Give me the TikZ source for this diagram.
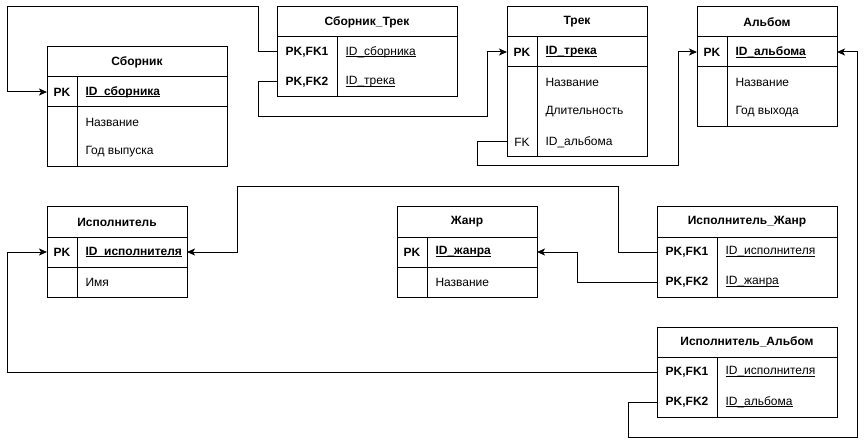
\documentclass[tikz,border=0pt]{standalone}
\usepackage{fontspec}
\setmainfont{Liberation Sans}
\usetikzlibrary{positioning,arrows.meta}

\newcommand{\idul}[1]{\rlap{\underline{\smash{#1}}}\phantom{#1}}

\tikzset{
  hdr/.style={draw, font=\fontsize{12}{14}\selectfont\bfseries, minimum height=30pt,
    inner sep=0pt, outer sep=0pt, anchor=north west},
  row/.style={minimum height=30pt, inner sep=0pt, outer sep=0pt},
  key/.style={font=\fontsize{12}{14}\selectfont\bfseries, inner sep=0pt},
  fld/.style={font=\fontsize{12}{14}\selectfont, anchor=west, inner sep=0pt},
  keyfld/.style={fld, font=\fontsize{12}{14}\selectfont\bfseries},
  rel/.style={-{Stealth[length=8pt,width=7pt,inset=2pt]}}
}

\begin{document}
\begin{tikzpicture}[x=1pt, y=-1pt, line width=1pt]
  \useasboundingbox (0,0) rectangle (866,446);

  % Сборник
  \node[hdr, minimum width=180] (sb) at (47,47) {Сборник};
  \node[row, minimum width=180, below=0pt of sb] (sb-pk) {};
  \node[row, minimum width=180, below=0pt of sb-pk] (sb-a1) {};
  \node[row, minimum width=180, below=0pt of sb-a1] (sb-a2) {};
  \draw (sb.south west) rectangle (sb-a2.south east);
  \draw (sb-pk.south west) -- (sb-pk.south east);
  \draw ([xshift=30]sb.south west) -- ([xshift=30]sb-a2.south west);
  \node[key] at ([xshift=15]sb-pk.west) {PK};
  \node[keyfld] at ([xshift=38]sb-pk.west) {\idul{ID\_сборника}};
  \node[fld] at ([xshift=38]sb-a1.west) {Название};
  \node[fld] at ([xshift=38]sb-a2.west) {Год выпуска};

  % Сборник_Трек
  \node[hdr, minimum width=180] (st) at (277,7) {Сборник\_Трек};
  \node[row, minimum width=180, below=0pt of st] (st-r1) {};
  \node[row, minimum width=180, below=0pt of st-r1] (st-r2) {};
  \draw (st.south west) rectangle (st-r2.south east);
  \draw ([xshift=60]st.south west) -- ([xshift=60]st-r2.south west);
  \node[key] at ([xshift=30]st-r1.west) {PK,FK1};
  \node[key] at ([xshift=30]st-r2.west) {PK,FK2};
  \node[fld] at ([xshift=68]st-r1.west) {\idul{ID\_сборника}};
  \node[fld] at ([xshift=68]st-r2.west) {\idul{ID\_трека}};

  % Трек
  \node[hdr, minimum width=140] (tr) at (507,7) {Трек};
  \node[row, minimum width=140, below=0pt of tr] (tr-pk) {};
  \node[row, minimum width=140, below=0pt of tr-pk] (tr-a1) {};
  \node[row, minimum width=140, below=0pt of tr-a1] (tr-a2) {};
  \node[row, minimum width=140, below=0pt of tr-a2] (tr-fk) {};
  \draw (tr.south west) rectangle (tr-fk.south east);
  \draw (tr-pk.south west) -- (tr-pk.south east);
  \draw ([xshift=30]tr.south west) -- ([xshift=30]tr-fk.south west);
  \node[key] at ([xshift=15]tr-pk.west) {PK};
  \node[keyfld] at ([xshift=38]tr-pk.west) {\idul{ID\_трека}};
  \node[fld] at ([xshift=38]tr-a1.west) {Название};
  \node[fld] at ([xshift=38]tr-a2.west) {Длительность};
  \node[fld, anchor=center] at ([xshift=15]tr-fk.west) {FK};
  \node[fld] at ([xshift=38]tr-fk.west) {ID\_альбома};

  % Альбом
  \node[hdr, minimum width=140] (al) at (697,7) {Альбом};
  \node[row, minimum width=140, below=0pt of al] (al-pk) {};
  \node[row, minimum width=140, below=0pt of al-pk] (al-a1) {};
  \node[row, minimum width=140, below=0pt of al-a1] (al-a2) {};
  \draw (al.south west) rectangle (al-a2.south east);
  \draw (al-pk.south west) -- (al-pk.south east);
  \draw ([xshift=30]al.south west) -- ([xshift=30]al-a2.south west);
  \node[key] at ([xshift=15]al-pk.west) {PK};
  \node[keyfld] at ([xshift=38]al-pk.west) {\idul{ID\_альбома}};
  \node[fld] at ([xshift=38]al-a1.west) {Название};
  \node[fld] at ([xshift=38]al-a2.west) {Год выхода};

  % Исполнитель
  \node[hdr, minimum width=140] (is) at (47,207) {Исполнитель};
  \node[row, minimum width=140, below=0pt of is] (is-pk) {};
  \node[row, minimum width=140, below=0pt of is-pk] (is-a1) {};
  \draw (is.south west) rectangle (is-a1.south east);
  \draw (is-pk.south west) -- (is-pk.south east);
  \draw ([xshift=30]is.south west) -- ([xshift=30]is-a1.south west);
  \node[key] at ([xshift=15]is-pk.west) {PK};
  \node[keyfld] at ([xshift=38]is-pk.west) {\idul{ID\_исполнителя}};
  \node[fld] at ([xshift=38]is-a1.west) {Имя};

  % Жанр
  \node[hdr, minimum width=140] (zh) at (397,207) {Жанр};
  \node[row, minimum width=140, below=0pt of zh] (zh-pk) {};
  \node[row, minimum width=140, below=0pt of zh-pk] (zh-a1) {};
  \draw (zh.south west) rectangle (zh-a1.south east);
  \draw (zh-pk.south west) -- (zh-pk.south east);
  \draw ([xshift=30]zh.south west) -- ([xshift=30]zh-a1.south west);
  \node[key] at ([xshift=15]zh-pk.west) {PK};
  \node[keyfld] at ([xshift=38]zh-pk.west) {\idul{ID\_жанра}};
  \node[fld] at ([xshift=38]zh-a1.west) {Название};

  % Исполнитель_Жанр
  \node[hdr, minimum width=180] (ij) at (657,207) {Исполнитель\_Жанр};
  \node[row, minimum width=180, below=0pt of ij] (ij-r1) {};
  \node[row, minimum width=180, below=0pt of ij-r1] (ij-r2) {};
  \draw (ij.south west) rectangle (ij-r2.south east);
  \draw ([xshift=60]ij.south west) -- ([xshift=60]ij-r2.south west);
  \node[key] at ([xshift=30]ij-r1.west) {PK,FK1};
  \node[key] at ([xshift=30]ij-r2.west) {PK,FK2};
  \node[fld] at ([xshift=68]ij-r1.west) {\idul{ID\_исполнителя}};
  \node[fld] at ([xshift=68]ij-r2.west) {\idul{ID\_жанра}};

  % Исполнитель_Альбом
  \node[hdr, minimum width=180] (ia) at (657,327) {Исполнитель\_Альбом};
  \node[row, minimum width=180, below=0pt of ia] (ia-r1) {};
  \node[row, minimum width=180, below=0pt of ia-r1] (ia-r2) {};
  \draw (ia.south west) rectangle (ia-r2.south east);
  \draw ([xshift=60]ia.south west) -- ([xshift=60]ia-r2.south west);
  \node[key] at ([xshift=30]ia-r1.west) {PK,FK1};
  \node[key] at ([xshift=30]ia-r2.west) {PK,FK2};
  \node[fld] at ([xshift=68]ia-r1.west) {\idul{ID\_исполнителя}};
  \node[fld] at ([xshift=68]ia-r2.west) {\idul{ID\_альбома}};

  \draw[rel] (st-r1.west) -| (258,7) -| (7,92) -- (sb-pk.west);
  \draw[rel] (st-r2.west) -| (258,117) -| (487,52) -- (tr-pk.west);
  \draw[rel] (tr-fk.west) -| (477,166) -| (678,52) -- (al-pk.west);
  \draw[rel] (ia-r2.west) -| (628,437) -| (857,52) -- (al-pk.east);
  \draw[rel] (ia-r1.west) -| (7,252) -- (is-pk.west);
  \draw[rel] (ij-r1.west) -| (618,187) -| (237,252) -- (is-pk.east);
  \draw[rel] (ij-r2.west) -| (577,252) -- (zh-pk.east);
\end{tikzpicture}
\end{document}
